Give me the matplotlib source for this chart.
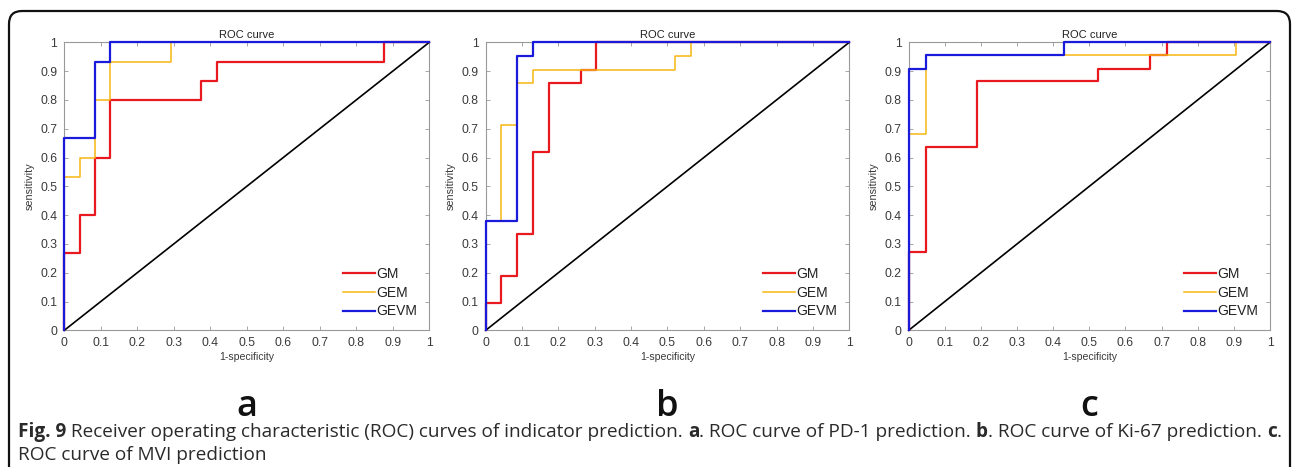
import matplotlib
matplotlib.use("Agg")
import matplotlib.pyplot as plt
from matplotlib.patches import FancyBboxPatch

# ROC step points (fpr, tpr pairs)
panel_letters = ["a", "b", "c"]
series_names = ["GM", "GEM", "GEVM"]
series_colors = ["#e8191f", "#f7b614", "#1a1adb"]
series_widths = [1.6, 1.1, 1.6]

a_gm_fpr = [0, 0, 0.042, 0.042, 0.083, 0.083, 0.125, 0.125, 0.375, 0.375, 0.417, 0.417, 0.875, 0.875, 1]
a_gm_tpr = [0, 0.267, 0.267, 0.4, 0.4, 0.6, 0.6, 0.8, 0.8, 0.867, 0.867, 0.933, 0.933, 1, 1]
a_gem_fpr = [0, 0, 0.042, 0.042, 0.083, 0.083, 0.125, 0.125, 0.292, 0.292, 1]
a_gem_tpr = [0, 0.533, 0.533, 0.6, 0.6, 0.8, 0.8, 0.933, 0.933, 1, 1]
a_gevm_fpr = [0, 0, 0.083, 0.083, 0.125, 0.125, 1]
a_gevm_tpr = [0, 0.667, 0.667, 0.933, 0.933, 1, 1]

b_gm_fpr = [0, 0, 0.043, 0.043, 0.087, 0.087, 0.130, 0.130, 0.174, 0.174, 0.261, 0.261, 0.304, 0.304, 1]
b_gm_tpr = [0, 0.095, 0.095, 0.19, 0.19, 0.333, 0.333, 0.619, 0.619, 0.857, 0.857, 0.905, 0.905, 1, 1]
b_gem_fpr = [0, 0, 0.043, 0.043, 0.087, 0.087, 0.130, 0.130, 0.522, 0.522, 0.565, 0.565, 1]
b_gem_tpr = [0, 0.381, 0.381, 0.714, 0.714, 0.857, 0.857, 0.905, 0.905, 0.952, 0.952, 1, 1]
b_gevm_fpr = [0, 0, 0.087, 0.087, 0.130, 0.130, 1]
b_gevm_tpr = [0, 0.381, 0.381, 0.952, 0.952, 1, 1]

c_gm_fpr = [0, 0, 0.048, 0.048, 0.190, 0.190, 0.524, 0.524, 0.667, 0.667, 0.714, 0.714, 1]
c_gm_tpr = [0, 0.273, 0.273, 0.636, 0.636, 0.864, 0.864, 0.909, 0.909, 0.955, 0.955, 1, 1]
c_gem_fpr = [0, 0, 0.048, 0.048, 0.905, 0.905, 1]
c_gem_tpr = [0, 0.682, 0.682, 0.955, 0.955, 1, 1]
c_gevm_fpr = [0, 0, 0.048, 0.048, 0.429, 0.429, 1]
c_gevm_tpr = [0, 0.909, 0.909, 0.955, 0.955, 1, 1]

panels = [
    [(a_gm_fpr, a_gm_tpr), (a_gem_fpr, a_gem_tpr), (a_gevm_fpr, a_gevm_tpr)],
    [(b_gm_fpr, b_gm_tpr), (b_gem_fpr, b_gem_tpr), (b_gevm_fpr, b_gevm_tpr)],
    [(c_gm_fpr, c_gm_tpr), (c_gem_fpr, c_gem_tpr), (c_gevm_fpr, c_gevm_tpr)],
]

ticks = [i / 10 for i in range(11)]
tick_labels = ["0", "0.1", "0.2", "0.3", "0.4", "0.5", "0.6", "0.7", "0.8", "0.9", "1"]

caption_line1 = [("Fig. 9", "bold"), (" Receiver operating characteristic (ROC) curves of indicator prediction. ", "normal"),
                 ("a", "bold"), (". ROC curve of PD-1 prediction. ", "normal"),
                 ("b", "bold"), (". ROC curve of Ki-67 prediction. ", "normal"), ("c", "bold"), (".", "normal")]
caption_line2 = "ROC curve of MVI prediction"

W, H = 1295, 467
fig = plt.figure(figsize=(W / 100, H / 100), dpi=100)
fig.patch.set_facecolor("white")

# page overlay in pixel coordinates
bg = fig.add_axes([0, 0, 1, 1])
bg.set_xlim(0, W)
bg.set_ylim(H, 0)
bg.axis("off")
frame = FancyBboxPatch((9, 11), 1281, 480, boxstyle="round,pad=0,rounding_size=13",
                       fc="none", ec="#111111", lw=1.6)
bg.add_patch(frame)

axes_px = [(64.3, 429.3), (485.7, 849.3), (908.7, 1270.0)]
top_px, bot_px = 42.3, 330.3
gray = "#3a3a3a"
sans = "Liberation Sans"

for k, (left, right) in enumerate(axes_px):
    ax = fig.add_axes([left / W, 1 - bot_px / H, (right - left) / W, (bot_px - top_px) / H])
    ax.plot([0, 1], [0, 1], color="black", lw=1.2, clip_on=False, zorder=3)
    for (fpr, tpr), name, col, lw in zip(panels[k], series_names, series_colors, series_widths):
        ax.plot(fpr, tpr, color=col, lw=lw, label=name, clip_on=False, zorder=4)
    ax.set_xlim(0, 1)
    ax.set_ylim(0, 1)
    ax.set_xticks(ticks)
    ax.set_xticklabels(tick_labels)
    ax.set_yticks(ticks)
    ax.set_yticklabels(tick_labels)
    ax.tick_params(direction="in", length=3, width=0.6, top=True, right=True,
                   labelsize=8.8, colors="#999999", labelcolor=gray, pad=5)
    for sp in ax.spines.values():
        sp.set_color("#999999")
        sp.set_linewidth(0.8)
        sp.set_zorder(1)
    ax.set_title("ROC curve", fontsize=8, color="#222222", pad=3, family=sans)
    ax.set_xlabel("1-specificity", fontsize=7.6, color=gray, labelpad=2, family=sans)
    ax.set_ylabel("sensitivity", fontsize=7.8, color=gray, labelpad=4, family=sans)
    for lab in ax.get_xticklabels() + ax.get_yticklabels():
        lab.set_family(sans)
    leg = ax.legend(loc="lower right", frameon=False, handlelength=2.3,
                    handletextpad=0.1, labelspacing=0.33, borderaxespad=0.45,
                    bbox_to_anchor=(1.0, 0.0),
                    prop={"family": sans, "size": 10})
    for t in leg.get_texts():
        t.set_color("#222222")
    bg.text((left + right) / 2, 416, panel_letters[k], fontsize=26, family="Open Sans",
            weight=600, ha="center", va="baseline", color="#111111")

# caption with mixed weights
fig.canvas.draw()
renderer = fig.canvas.get_renderer()
x = 18
for txt, wt in caption_line1:
    t = bg.text(x, 437, txt, fontsize=13.7, family="Open Sans", weight=wt,
                ha="left", va="baseline", color="#2a2a2a")
    bb = t.get_window_extent(renderer=renderer)
    x += bb.width
bg.text(18, 460, caption_line2, fontsize=13.7, family="Open Sans",
        ha="left", va="baseline", color="#2a2a2a")

fig.savefig("out.png", dpi=100)
